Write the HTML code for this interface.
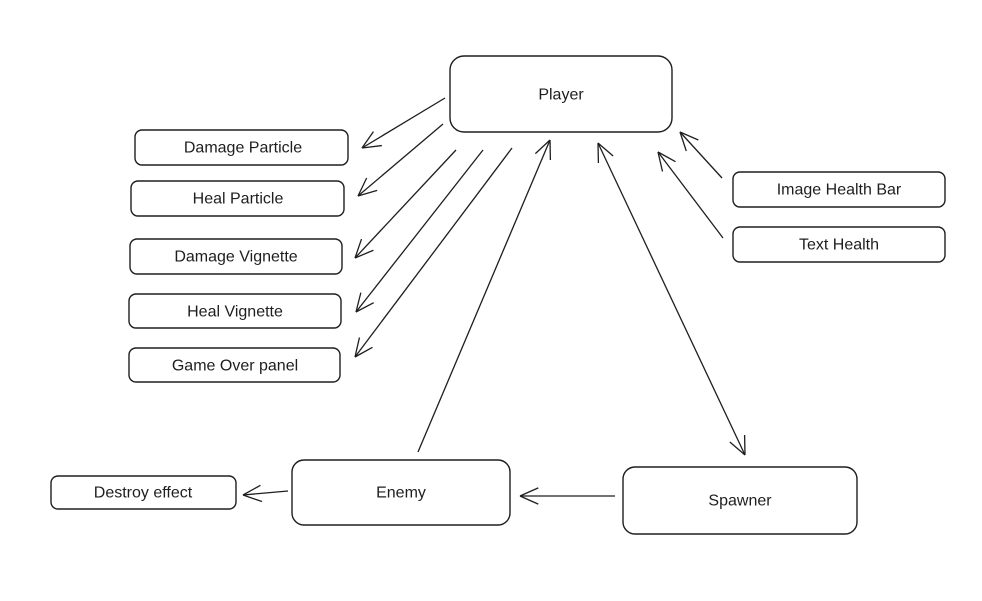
<!DOCTYPE html>
<html><head><meta charset="utf-8"><style>
html,body{margin:0;padding:0;background:#fff;}
svg{display:block}
text{font-family:"Liberation Sans",sans-serif;font-size:16px;fill:#1e1e1e;text-anchor:middle;dominant-baseline:central}
</style></head><body>
<svg id="s" width="982" height="601" viewBox="0 0 982 601" xmlns="http://www.w3.org/2000/svg">
<g fill="none" stroke="#1e1e1e" stroke-width="1.4">
<rect x="450" y="56" width="222" height="76" rx="14"/>
<rect x="135" y="130" width="213" height="35" rx="7"/>
<rect x="131" y="181" width="213" height="35" rx="7"/>
<rect x="130" y="239" width="212" height="35" rx="7"/>
<rect x="129" y="294" width="212" height="34" rx="7"/>
<rect x="129" y="348" width="211" height="34" rx="7"/>
<rect x="733" y="172" width="212" height="35" rx="7"/>
<rect x="733" y="227" width="212" height="35" rx="7"/>
<rect x="292" y="460" width="218" height="65" rx="12"/>
<rect x="623" y="467" width="234" height="67" rx="12"/>
<rect x="51" y="476" width="185" height="33" rx="7"/>
</g>
<text x="561" y="95">Player</text>
<text x="243" y="148">Damage Particle</text>
<text x="238" y="199">Heal Particle</text>
<text x="236" y="257">Damage Vignette</text>
<text x="235" y="312">Heal Vignette</text>
<text x="235" y="366">Game Over panel</text>
<text x="839" y="190">Image Health Bar</text>
<text x="839" y="245">Text Health</text>
<text x="401" y="493">Enemy</text>
<text x="740" y="501">Spawner</text>
<text x="143" y="493">Destroy effect</text>
<g id="arr" fill="none" stroke="#1e1e1e" stroke-width="1.3"></g>
</svg>
<script>
var g=document.getElementById('arr');
function ln(a,b,c,d){var l=document.createElementNS('http://www.w3.org/2000/svg','line');l.setAttribute('x1',a);l.setAttribute('y1',b);l.setAttribute('x2',c);l.setAttribute('y2',d);g.appendChild(l);}
function head(x1,y1,x2,y2){var an=Math.atan2(y1-y2,x1-x2),L=20,w=0.42;
ln(x2,y2,x2+L*Math.cos(an+w),y2+L*Math.sin(an+w));ln(x2,y2,x2+L*Math.cos(an-w),y2+L*Math.sin(an-w));}
function arrow(x1,y1,x2,y2,both){ln(x1,y1,x2,y2);head(x1,y1,x2,y2);if(both)head(x2,y2,x1,y1);}
arrow(445,98,362,148);
arrow(443,124,358,196);
arrow(456,150,355,258);
arrow(483,150,356,312);
arrow(512,148,355,357);
arrow(418,452,550,140);
arrow(598,143,745,455,true);
arrow(722,178,680,132);
arrow(723,238,658,152);
arrow(615,496,520,496);
arrow(288,491,243,495);
</script>
</body></html>
